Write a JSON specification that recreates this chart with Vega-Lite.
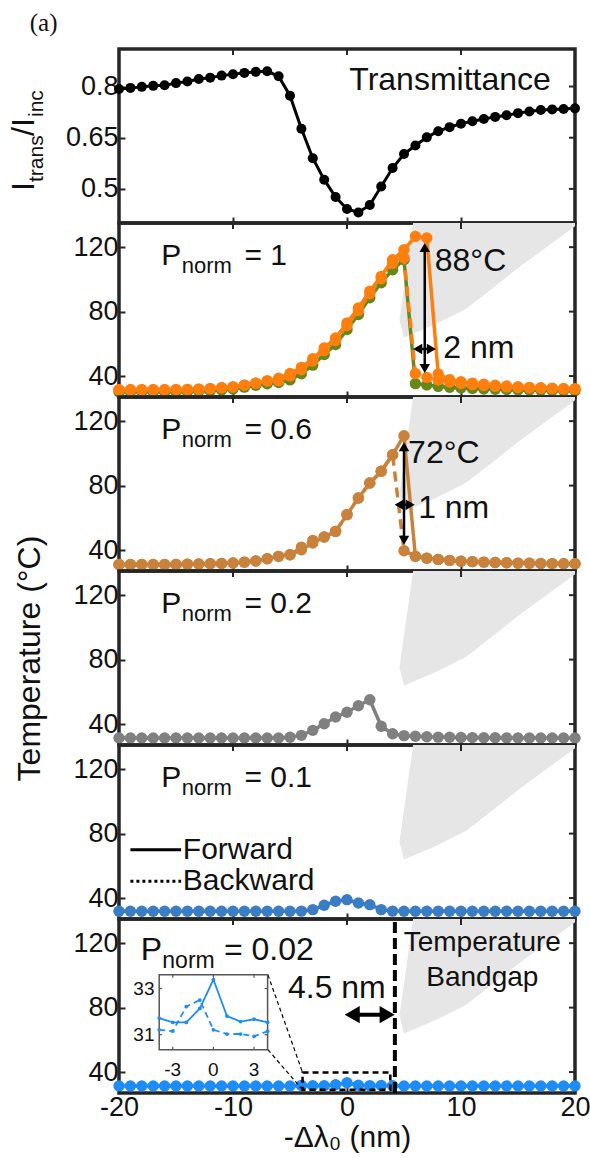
{
"$schema": "https://vega.github.io/schema/vega-lite/v6.json",
"padding": {"left": 5, "top": 9, "right": 0, "bottom": 0},
"background": "white",
"spacing": 0,
"bounds": "flush",
"datasets": {
"trans": [{"x":-20,"v":0.793},{"x":-19,"v":0.796},{"x":-18,"v":0.799},{"x":-17,"v":0.802},{"x":-16,"v":0.804},{"x":-15,"v":0.81},{"x":-14,"v":0.815},{"x":-13,"v":0.822},{"x":-12,"v":0.826},{"x":-11,"v":0.832},{"x":-10,"v":0.836},{"x":-9,"v":0.84},{"x":-8,"v":0.843},{"x":-7,"v":0.845},{"x":-6,"v":0.83},{"x":-5,"v":0.773},{"x":-4,"v":0.676},{"x":-3,"v":0.59},{"x":-2,"v":0.527},{"x":-1,"v":0.476},{"x":0,"v":0.441},{"x":1,"v":0.431},{"x":2,"v":0.453},{"x":3,"v":0.507},{"x":4,"v":0.561},{"x":5,"v":0.602},{"x":6,"v":0.627},{"x":7,"v":0.651},{"x":8,"v":0.669},{"x":9,"v":0.681},{"x":10,"v":0.691},{"x":11,"v":0.698},{"x":12,"v":0.705},{"x":13,"v":0.711},{"x":14,"v":0.716},{"x":15,"v":0.722},{"x":16,"v":0.727},{"x":17,"v":0.731},{"x":18,"v":0.733},{"x":19,"v":0.734},{"x":20,"v":0.736}],
"vticks": [{"x":20,"v":0.5,"x2":19.47,"v2":0.5},{"x":20,"v":0.65,"x2":19.47,"v2":0.65},{"x":20,"v":0.8,"x2":19.47,"v2":0.8},{"x":-10,"v":0.91,"x2":-10,"v2":0.8924},{"x":0,"v":0.91,"x2":0,"v2":0.8924},{"x":10,"v":0.91,"x2":10,"v2":0.8924}],
"tticks": [{"x":20,"T":40,"x2":19.47,"T2":40},{"x":20,"T":80,"x2":19.47,"T2":80},{"x":20,"T":120,"x2":19.47,"T2":120},{"x":-10,"T":135,"x2":-10,"T2":131.3},{"x":0,"T":135,"x2":0,"T2":131.3},{"x":10,"T":135,"x2":10,"T2":131.3}],
"gray": [{"T":64,"xl":5.0,"xr":5.0},{"T":72,"xl":4.71,"xr":7.7},{"T":75,"xl":4.6,"xr":8.54},{"T":82,"xl":4.74,"xr":10.5},{"T":107,"xl":5.24,"xr":15.0},{"T":133,"xl":5.76,"xr":20.0},{"T":135,"xl":5.8,"xr":20.0}],
"p2f": [{"x":-20,"T":31.5},{"x":-19,"T":31.5},{"x":-18,"T":31.5},{"x":-17,"T":31.5},{"x":-16,"T":31.5},{"x":-15,"T":31.6},{"x":-14,"T":31.7},{"x":-13,"T":31.9},{"x":-12,"T":32.2},{"x":-11,"T":32.7},{"x":-10,"T":33.3},{"x":-9,"T":34.4},{"x":-8,"T":35.6},{"x":-7,"T":37.0},{"x":-6,"T":38.6},{"x":-5,"T":41.6},{"x":-4,"T":45.4},{"x":-3,"T":50.8},{"x":-2,"T":57.4},{"x":-1,"T":63.6},{"x":0,"T":72.9},{"x":1,"T":82.2},{"x":2,"T":92.6},{"x":3,"T":101.9},{"x":4,"T":112.2},{"x":5,"T":118.4},{"x":6,"T":126.7},{"x":7,"T":125.7},{"x":8,"T":41.3},{"x":9,"T":37.8},{"x":10,"T":36.5},{"x":11,"T":35.6},{"x":12,"T":34.9},{"x":13,"T":34.3},{"x":14,"T":33.8},{"x":15,"T":33.4},{"x":16,"T":33.0},{"x":17,"T":32.7},{"x":18,"T":32.5},{"x":19,"T":32.3},{"x":20,"T":32.2}],
"p2b": [{"x":-20,"T":31.5},{"x":-19,"T":31.5},{"x":-18,"T":31.5},{"x":-17,"T":31.5},{"x":-16,"T":31.5},{"x":-15,"T":31.6},{"x":-14,"T":31.7},{"x":-13,"T":31.9},{"x":-12,"T":32.2},{"x":-11,"T":32.7},{"x":-10,"T":33.3},{"x":-9,"T":34.4},{"x":-8,"T":35.6},{"x":-7,"T":37.0},{"x":-6,"T":37.1},{"x":-5,"T":40.1},{"x":-4,"T":43.9},{"x":-3,"T":49.3},{"x":-2,"T":55.9},{"x":-1,"T":62.1},{"x":0,"T":71.4},{"x":1,"T":80.7},{"x":2,"T":91.1},{"x":3,"T":100.4},{"x":4,"T":110.0},{"x":5,"T":113.5},{"x":6,"T":41.5},{"x":7,"T":39.2},{"x":8,"T":37.5},{"x":9,"T":36.3},{"x":10,"T":35.4},{"x":11,"T":34.7},{"x":12,"T":34.1},{"x":13,"T":33.6},{"x":14,"T":33.2},{"x":15,"T":32.9},{"x":16,"T":32.6},{"x":17,"T":32.4},{"x":18,"T":32.2},{"x":19,"T":32.0},{"x":20,"T":31.9}],
"p2g": [{"x":-20,"T":30.2},{"x":-19,"T":30.2},{"x":-18,"T":30.2},{"x":-17,"T":30.2},{"x":-16,"T":30.2},{"x":-15,"T":30.3},{"x":-14,"T":30.4},{"x":-13,"T":30.6},{"x":-12,"T":30.9},{"x":-11,"T":31.4},{"x":-10,"T":32.0},{"x":-9,"T":33.1},{"x":-8,"T":34.3},{"x":-7,"T":35.2},{"x":-6,"T":36.0},{"x":-5,"T":37.6},{"x":-4,"T":41.4},{"x":-3,"T":46.8},{"x":-2,"T":53.4},{"x":-1,"T":59.6},{"x":0,"T":68.9},{"x":1,"T":78.2},{"x":2,"T":88.6},{"x":3,"T":97.9},{"x":4,"T":106.0},{"x":5,"T":112.2},{"x":6,"T":35.3},{"x":7,"T":34.4},{"x":8,"T":33.6},{"x":9,"T":33.0},{"x":10,"T":32.6},{"x":11,"T":32.3},{"x":12,"T":32.0},{"x":13,"T":31.8},{"x":14,"T":31.6},{"x":15,"T":31.4},{"x":16,"T":31.3},{"x":17,"T":31.2},{"x":18,"T":31.1},{"x":19,"T":31.0},{"x":20,"T":30.9}],
"p3f": [{"x":-20,"T":31.0},{"x":-19,"T":31.0},{"x":-18,"T":31.0},{"x":-17,"T":31.0},{"x":-16,"T":31.0},{"x":-15,"T":31.1},{"x":-14,"T":31.2},{"x":-13,"T":31.3},{"x":-12,"T":31.5},{"x":-11,"T":31.7},{"x":-10,"T":32.0},{"x":-9,"T":32.5},{"x":-8,"T":33.2},{"x":-7,"T":34.6},{"x":-6,"T":36.1},{"x":-5,"T":37.1},{"x":-4,"T":40.2},{"x":-3,"T":44.4},{"x":-2,"T":48.1},{"x":-1,"T":51.6},{"x":0,"T":62.0},{"x":1,"T":72.3},{"x":2,"T":81.6},{"x":3,"T":88.9},{"x":4,"T":99.2},{"x":5,"T":111.0},{"x":6,"T":36.1},{"x":7,"T":35.0},{"x":8,"T":34.2},{"x":9,"T":33.6},{"x":10,"T":33.1},{"x":11,"T":32.8},{"x":12,"T":32.5},{"x":13,"T":32.3},{"x":14,"T":32.1},{"x":15,"T":31.9},{"x":16,"T":31.8},{"x":17,"T":31.7},{"x":18,"T":31.6},{"x":19,"T":31.5},{"x":20,"T":31.5}],
"p3b": [{"x":-20,"T":31.0},{"x":-19,"T":31.0},{"x":-18,"T":31.0},{"x":-17,"T":31.0},{"x":-16,"T":31.0},{"x":-15,"T":31.1},{"x":-14,"T":31.2},{"x":-13,"T":31.3},{"x":-12,"T":31.5},{"x":-11,"T":31.7},{"x":-10,"T":32.0},{"x":-9,"T":32.5},{"x":-8,"T":33.2},{"x":-7,"T":34.6},{"x":-6,"T":36.1},{"x":-5,"T":37.1},{"x":-4,"T":41.8},{"x":-3,"T":46.0},{"x":-2,"T":48.1},{"x":-1,"T":51.6},{"x":0,"T":62.0},{"x":1,"T":72.3},{"x":2,"T":81.6},{"x":3,"T":88.9},{"x":4,"T":99.2},{"x":5,"T":39.6},{"x":6,"T":36.1},{"x":7,"T":35.0},{"x":8,"T":34.2},{"x":9,"T":33.6},{"x":10,"T":33.1},{"x":11,"T":32.8},{"x":12,"T":32.5},{"x":13,"T":32.3},{"x":14,"T":32.1},{"x":15,"T":31.9},{"x":16,"T":31.8},{"x":17,"T":31.7},{"x":18,"T":31.6},{"x":19,"T":31.5},{"x":20,"T":31.5}],
"p4": [{"x":-20,"T":31.3},{"x":-19,"T":31.3},{"x":-18,"T":31.3},{"x":-17,"T":31.3},{"x":-16,"T":31.3},{"x":-15,"T":31.3},{"x":-14,"T":31.3},{"x":-13,"T":31.3},{"x":-12,"T":31.3},{"x":-11,"T":31.3},{"x":-10,"T":31.3},{"x":-9,"T":31.3},{"x":-8,"T":31.3},{"x":-7,"T":31.3},{"x":-6,"T":31.4},{"x":-5,"T":31.8},{"x":-4,"T":33.0},{"x":-3,"T":36.1},{"x":-2,"T":40.2},{"x":-1,"T":44.4},{"x":0,"T":47.3},{"x":1,"T":51.4},{"x":2,"T":55.1},{"x":3,"T":38.6},{"x":4,"T":34.0},{"x":5,"T":32.8},{"x":6,"T":32.4},{"x":7,"T":32.1},{"x":8,"T":31.9},{"x":9,"T":31.8},{"x":10,"T":31.7},{"x":11,"T":31.6},{"x":12,"T":31.5},{"x":13,"T":31.5},{"x":14,"T":31.4},{"x":15,"T":31.4},{"x":16,"T":31.4},{"x":17,"T":31.3},{"x":18,"T":31.3},{"x":19,"T":31.3},{"x":20,"T":31.3}],
"p5": [{"x":-20,"T":31.8},{"x":-19,"T":31.8},{"x":-18,"T":31.8},{"x":-17,"T":31.8},{"x":-16,"T":31.8},{"x":-15,"T":31.8},{"x":-14,"T":31.8},{"x":-13,"T":31.8},{"x":-12,"T":31.8},{"x":-11,"T":31.8},{"x":-10,"T":31.8},{"x":-9,"T":31.8},{"x":-8,"T":31.8},{"x":-7,"T":31.8},{"x":-6,"T":31.8},{"x":-5,"T":31.8},{"x":-4,"T":31.9},{"x":-3,"T":32.8},{"x":-2,"T":35.5},{"x":-1,"T":38.0},{"x":0,"T":39.0},{"x":1,"T":36.9},{"x":2,"T":35.9},{"x":3,"T":32.8},{"x":4,"T":31.9},{"x":5,"T":31.8},{"x":6,"T":31.8},{"x":7,"T":31.8},{"x":8,"T":31.8},{"x":9,"T":31.8},{"x":10,"T":31.8},{"x":11,"T":31.8},{"x":12,"T":31.8},{"x":13,"T":31.8},{"x":14,"T":31.8},{"x":15,"T":31.8},{"x":16,"T":31.8},{"x":17,"T":31.8},{"x":18,"T":31.8},{"x":19,"T":31.8},{"x":20,"T":31.8}],
"p6": [{"x":-20,"T":31.4},{"x":-19,"T":31.4},{"x":-18,"T":31.4},{"x":-17,"T":31.4},{"x":-16,"T":31.4},{"x":-15,"T":31.4},{"x":-14,"T":31.4},{"x":-13,"T":31.4},{"x":-12,"T":31.4},{"x":-11,"T":31.4},{"x":-10,"T":31.4},{"x":-9,"T":31.4},{"x":-8,"T":31.4},{"x":-7,"T":31.4},{"x":-6,"T":31.4},{"x":-5,"T":31.4},{"x":-4,"T":31.72},{"x":-3,"T":31.53},{"x":-2,"T":31.53},{"x":-1,"T":32.14},{"x":0,"T":33.39},{"x":1,"T":31.81},{"x":2,"T":31.57},{"x":3,"T":31.67},{"x":4,"T":31.53},{"x":5,"T":31.4},{"x":6,"T":31.4},{"x":7,"T":31.4},{"x":8,"T":31.4},{"x":9,"T":31.4},{"x":10,"T":31.4},{"x":11,"T":31.4},{"x":12,"T":31.4},{"x":13,"T":31.4},{"x":14,"T":31.4},{"x":15,"T":31.4},{"x":16,"T":31.4},{"x":17,"T":31.4},{"x":18,"T":31.4},{"x":19,"T":31.4},{"x":20,"T":31.4}],
"insf": [{"x":-4,"T":31.72},{"x":-3,"T":31.53},{"x":-2,"T":31.53},{"x":-1,"T":32.14},{"x":0,"T":33.39},{"x":1,"T":31.81},{"x":2,"T":31.57},{"x":3,"T":31.67},{"x":4,"T":31.53}],
"insb": [{"x":-4,"T":31.21},{"x":-3,"T":31.15},{"x":-2,"T":32.22},{"x":-1,"T":32.5},{"x":0,"T":31.21},{"x":1,"T":31.03},{"x":2,"T":31.03},{"x":3,"T":30.93},{"x":4,"T":31.15}],
"insticks": [{"x":-4,"T":31,"x2":-3.78,"T2":31},{"x":-4,"T":33,"x2":-3.78,"T2":33},{"x":4,"T":31,"x2":3.78,"T2":31},{"x":4,"T":33,"x2":3.78,"T2":33},{"x":-3,"T":30.35,"x2":-3,"T2":30.48},{"x":0,"T":30.35,"x2":0,"T2":30.48},{"x":3,"T":30.35,"x2":3,"T2":30.48},{"x":-3,"T":33.6,"x2":-3,"T2":33.47},{"x":0,"T":33.6,"x2":0,"T2":33.47},{"x":3,"T":33.6,"x2":3,"T2":33.47}]
},
"vconcat": [
{
"width": 456, "height": 174,
"encoding": {
 "x": {"field":"x","type":"quantitative","scale":{"domain":[-20,20]},"axis":{"values":[-10,0,10],"labels":false,"title":null}},
 "y": {"field":"v","type":"quantitative","scale":{"domain":[0.4,0.91]},"axis":{"values":[0.5,0.65,0.8],"title":null,"labelExpr":"''+datum.value"}}
},
"layer": [
 {"data":{"name":"vticks"},"mark":{"type":"rule","color":"#262626","strokeWidth":2},"encoding":{"x2":{"field":"x2"},"y2":{"field":"v2"}}},
 {"data":{"name":"trans"},"mark":{"type":"line","color":"#000000","strokeWidth":3}},
 {"data":{"name":"trans"},"mark":{"type":"circle","color":"#000000","size":100,"opacity":1}},
 {"data":{"values":[{"x":0.2,"v":0.79,"t":"Transmittance"}]},"mark":{"type":"text","align":"left","baseline":"alphabetic","fontSize":32},"encoding":{"text":{"field":"t"}}},
 {"data":{"values":[{"x":-27.83,"v":0.963,"t":"(a)"}]},"mark":{"type":"text","align":"left","baseline":"alphabetic","fontSize":25,"font":"Liberation Serif"},"encoding":{"text":{"field":"t"}}},
 {"data":{"values":[{"x":-27.48,"v":0.4936,"t":"I"},{"x":-27.48,"v":0.655,"t":"/I"}]},"mark":{"type":"text","align":"left","baseline":"alphabetic","fontSize":32,"angle":270},"encoding":{"text":{"field":"t"}}},
 {"data":{"values":[{"x":-26.69,"v":0.52,"t":"trans"},{"x":-26.69,"v":0.7106,"t":"inc"}]},"mark":{"type":"text","align":"left","baseline":"alphabetic","fontSize":21,"angle":270},"encoding":{"text":{"field":"t"}}}
]
},
{
"width": 456, "height": 174,
"encoding": {
 "x": {"field":"x","type":"quantitative","scale":{"domain":[-20,20]},"axis":{"values":[-10,0,10],"labels":false,"title":null}},
 "y": {"field":"T","type":"quantitative","scale":{"domain":[27,135]},"axis":{"values":[40,80,120],"title":null}}
},
"layer": [
 {"data":{"name":"gray"},"mark":{"type":"area","orient":"horizontal","color":"#e6e6e6","opacity":1},"encoding":{"x":{"field":"xl","type":"quantitative","scale":{"domain":[-20,20]}},"x2":{"field":"xr"}}},
 {"data":{"name":"tticks"},"mark":{"type":"rule","color":"#262626","strokeWidth":2},"encoding":{"x2":{"field":"x2"},"y2":{"field":"T2"}}},
 {"data":{"name":"p2g"},"mark":{"type":"line","color":"#66881a","strokeWidth":3.5}},
 {"data":{"name":"p2g"},"mark":{"type":"circle","color":"#66881a","size":130,"opacity":1}},
 {"data":{"name":"p2b"},"mark":{"type":"line","color":"#ff7f0e","strokeWidth":3.5,"strokeDash":[10,6]}},
 {"data":{"name":"p2b"},"mark":{"type":"circle","color":"#ff7f0e","size":130,"opacity":1}},
 {"data":{"name":"p2f"},"mark":{"type":"line","color":"#ff7f0e","strokeWidth":3.5}},
 {"data":{"name":"p2f"},"mark":{"type":"circle","color":"#ff7f0e","size":130,"opacity":1}},
 {"data":{"values":[{"x":6.82,"T":119.8,"x2":6.82,"T2":44.7},{"x":6.2,"T":56.8,"x2":7.4,"T2":56.8}]},"mark":{"type":"rule","color":"#000000","strokeWidth":2.5},"encoding":{"x2":{"field":"x2"},"y2":{"field":"T2"}}},
 {"data":{"values":[{"x":6.82,"T":119.8,"d":"up"},{"x":6.82,"T":44.7,"d":"down"},{"x":6.2,"T":56.8,"d":"left"},{"x":7.4,"T":56.8,"d":"right"}]},"mark":{"type":"point","filled":true,"color":"#000000","size":110,"opacity":1},"encoding":{"shape":{"field":"d","type":"nominal","scale":{"domain":["up","down","left","right"],"range":["triangle-up","triangle-down","triangle-left","triangle-right"]},"legend":null}}},
 {"data":{"values":[{"x":7.7,"T":105.0,"t":"88°C"},{"x":8.44,"T":51.2,"t":"2 nm"}]},"mark":{"type":"text","align":"left","baseline":"alphabetic","fontSize":32},"encoding":{"text":{"field":"t"}}},
 {"data":{"values":[{"x":-16.3,"T":109,"t":"P"},{"x":-9.0,"T":109,"t":"= 1"}]},"mark":{"type":"text","align":"left","baseline":"alphabetic","fontSize":30},"encoding":{"text":{"field":"t"}}},
 {"data":{"values":[{"x":-14.5,"T":104,"t":"norm"}]},"mark":{"type":"text","align":"left","baseline":"alphabetic","fontSize":22},"encoding":{"text":{"field":"t"}}}
]
},
{
"width": 456, "height": 174,
"encoding": {
 "x": {"field":"x","type":"quantitative","scale":{"domain":[-20,20]},"axis":{"values":[-10,0,10],"labels":false,"title":null}},
 "y": {"field":"T","type":"quantitative","scale":{"domain":[27,135]},"axis":{"values":[40,80,120],"title":null}}
},
"layer": [
 {"data":{"name":"gray"},"mark":{"type":"area","orient":"horizontal","color":"#e6e6e6","opacity":1},"encoding":{"x":{"field":"xl","type":"quantitative","scale":{"domain":[-20,20]}},"x2":{"field":"xr"}}},
 {"data":{"name":"tticks"},"mark":{"type":"rule","color":"#262626","strokeWidth":2},"encoding":{"x2":{"field":"x2"},"y2":{"field":"T2"}}},
 {"data":{"name":"p3b"},"mark":{"type":"line","color":"#c8823c","strokeWidth":3.5,"strokeDash":[10,6]}},
 {"data":{"name":"p3b"},"mark":{"type":"circle","color":"#c8823c","size":130,"opacity":1}},
 {"data":{"name":"p3f"},"mark":{"type":"line","color":"#c8823c","strokeWidth":3.5}},
 {"data":{"name":"p3f"},"mark":{"type":"circle","color":"#c8823c","size":130,"opacity":1}},
 {"data":{"values":[{"x":5.0,"T":104.1,"x2":5.0,"T2":46.1},{"x":4.58,"T":68.1,"x2":5.54,"T2":68.1}]},"mark":{"type":"rule","color":"#000000","strokeWidth":2.5},"encoding":{"x2":{"field":"x2"},"y2":{"field":"T2"}}},
 {"data":{"values":[{"x":5.0,"T":104.1,"d":"up"},{"x":5.0,"T":46.1,"d":"down"},{"x":4.58,"T":68.1,"d":"left"},{"x":5.54,"T":68.1,"d":"right"}]},"mark":{"type":"point","filled":true,"color":"#000000","size":110,"opacity":1},"encoding":{"shape":{"field":"d","type":"nominal","scale":{"domain":["up","down","left","right"],"range":["triangle-up","triangle-down","triangle-left","triangle-right"]},"legend":null}}},
 {"data":{"values":[{"x":5.36,"T":94.0,"t":"72°C"},{"x":6.24,"T":59.9,"t":"1 nm"}]},"mark":{"type":"text","align":"left","baseline":"alphabetic","fontSize":32},"encoding":{"text":{"field":"t"}}},
 {"data":{"values":[{"x":-16.3,"T":109,"t":"P"},{"x":-9.0,"T":109,"t":"= 0.6"}]},"mark":{"type":"text","align":"left","baseline":"alphabetic","fontSize":30},"encoding":{"text":{"field":"t"}}},
 {"data":{"values":[{"x":-14.5,"T":104,"t":"norm"}]},"mark":{"type":"text","align":"left","baseline":"alphabetic","fontSize":22},"encoding":{"text":{"field":"t"}}}
]
},
{
"width": 456, "height": 174,
"encoding": {
 "x": {"field":"x","type":"quantitative","scale":{"domain":[-20,20]},"axis":{"values":[-10,0,10],"labels":false,"title":null}},
 "y": {"field":"T","type":"quantitative","scale":{"domain":[27,135]},"axis":{"values":[40,80,120],"title":"Temperature (°C)","titlePadding":26}}
},
"layer": [
 {"data":{"name":"gray"},"mark":{"type":"area","orient":"horizontal","color":"#e6e6e6","opacity":1},"encoding":{"x":{"field":"xl","type":"quantitative","scale":{"domain":[-20,20]}},"x2":{"field":"xr"}}},
 {"data":{"name":"tticks"},"mark":{"type":"rule","color":"#262626","strokeWidth":2},"encoding":{"x2":{"field":"x2"},"y2":{"field":"T2"}}},
 {"data":{"name":"p4"},"mark":{"type":"line","color":"#808080","strokeWidth":3.5}},
 {"data":{"name":"p4"},"mark":{"type":"circle","color":"#808080","size":130,"opacity":1}},
 {"data":{"values":[{"x":-16.3,"T":109,"t":"P"},{"x":-9.0,"T":109,"t":"= 0.2"}]},"mark":{"type":"text","align":"left","baseline":"alphabetic","fontSize":30},"encoding":{"text":{"field":"t"}}},
 {"data":{"values":[{"x":-14.5,"T":104,"t":"norm"}]},"mark":{"type":"text","align":"left","baseline":"alphabetic","fontSize":22},"encoding":{"text":{"field":"t"}}}
]
},
{
"width": 456, "height": 174,
"encoding": {
 "x": {"field":"x","type":"quantitative","scale":{"domain":[-20,20]},"axis":{"values":[-10,0,10],"labels":false,"title":null}},
 "y": {"field":"T","type":"quantitative","scale":{"domain":[27,135]},"axis":{"values":[40,80,120],"title":null}}
},
"layer": [
 {"data":{"name":"gray"},"mark":{"type":"area","orient":"horizontal","color":"#e6e6e6","opacity":1},"encoding":{"x":{"field":"xl","type":"quantitative","scale":{"domain":[-20,20]}},"x2":{"field":"xr"}}},
 {"data":{"name":"tticks"},"mark":{"type":"rule","color":"#262626","strokeWidth":2},"encoding":{"x2":{"field":"x2"},"y2":{"field":"T2"}}},
 {"data":{"name":"p5"},"mark":{"type":"line","color":"#3b7dc4","strokeWidth":3.5}},
 {"data":{"name":"p5"},"mark":{"type":"circle","color":"#3b7dc4","size":130,"opacity":1}},
 {"data":{"values":[{"x":-19,"T":70,"x2":-14.55,"T2":70}]},"mark":{"type":"rule","color":"#000000","strokeWidth":3},"encoding":{"x2":{"field":"x2"},"y2":{"field":"T2"}}},
 {"data":{"values":[{"x":-19,"T":50.4,"x2":-14.55,"T2":50.4}]},"mark":{"type":"rule","color":"#000000","strokeWidth":3,"strokeDash":[3,3]},"encoding":{"x2":{"field":"x2"},"y2":{"field":"T2"}}},
 {"data":{"values":[{"x":-14.4,"T":64.3,"t":"Forward"},{"x":-14.4,"T":45.2,"t":"Backward"}]},"mark":{"type":"text","align":"left","baseline":"alphabetic","fontSize":30},"encoding":{"text":{"field":"t"}}},
 {"data":{"values":[{"x":-16.3,"T":109,"t":"P"},{"x":-9.0,"T":109,"t":"= 0.1"}]},"mark":{"type":"text","align":"left","baseline":"alphabetic","fontSize":30},"encoding":{"text":{"field":"t"}}},
 {"data":{"values":[{"x":-14.5,"T":104,"t":"norm"}]},"mark":{"type":"text","align":"left","baseline":"alphabetic","fontSize":22},"encoding":{"text":{"field":"t"}}}
]
},
{
"width": 456, "height": 174,
"layer": [
 {
  "encoding": {
   "x": {"field":"x","type":"quantitative","scale":{"domain":[-20,20]},"axis":{"values":[-20,-10,0,10,20],"labelFlush":false,"labelExpr":"''+datum.value","title":"-Δλ₀ (nm)","titleFontSize":30,"titlePadding":2}},
   "y": {"field":"T","type":"quantitative","scale":{"domain":[27,135]},"axis":{"values":[40,80,120],"title":null}}
  },
  "layer": [
   {"data":{"name":"gray"},"mark":{"type":"area","orient":"horizontal","color":"#e6e6e6","opacity":1},"encoding":{"x":{"field":"xl","type":"quantitative","scale":{"domain":[-20,20]}},"x2":{"field":"xr"}}},
   {"data":{"name":"tticks"},"mark":{"type":"rule","color":"#262626","strokeWidth":2},"encoding":{"x2":{"field":"x2"},"y2":{"field":"T2"}}},
   {"data":{"name":"p6"},"mark":{"type":"line","color":"#1e8cf5","strokeWidth":3.5}},
   {"data":{"name":"p6"},"mark":{"type":"circle","color":"#1e8cf5","size":130,"opacity":1}},
   {"data":{"values":[{"x":4.2,"T":27,"x2":4.2,"T2":135}]},"mark":{"type":"rule","color":"#000000","strokeWidth":4,"strokeDash":[11,5]},"encoding":{"x2":{"field":"x2"},"y2":{"field":"T2"}}},
   {"data":{"values":[{"x":-3.9,"T":29,"x2":3.8,"T2":39.8}]},"mark":{"type":"rect","filled":false,"color":"#000000","strokeWidth":2.5,"strokeDash":[6,4]},"encoding":{"x2":{"field":"x2"},"y2":{"field":"T2"}}},
   {"data":{"values":[{"x":-6.94,"T":100.4,"x2":-3.9,"T2":39.8},{"x":-6.94,"T":53.9,"x2":-3.9,"T2":29}]},"mark":{"type":"rule","color":"#000000","strokeWidth":1.2,"strokeDash":[4,3]},"encoding":{"x2":{"field":"x2"},"y2":{"field":"T2"}}},
   {"data":{"values":[{"x":0.46,"T":75.6,"x2":3.52,"T2":75.6}]},"mark":{"type":"rule","color":"#000000","strokeWidth":4},"encoding":{"x2":{"field":"x2"},"y2":{"field":"T2"}}},
   {"data":{"values":[{"x":0.46,"T":75.6,"d":"left"},{"x":3.52,"T":75.6,"d":"right"}]},"mark":{"type":"point","filled":true,"color":"#000000","size":300,"opacity":1},"encoding":{"shape":{"field":"d","type":"nominal","scale":{"domain":["left","right"],"range":["triangle-left","triangle-right"]},"legend":null}}},
   {"data":{"values":[{"x":-5.18,"T":86,"t":"4.5 nm"}]},"mark":{"type":"text","align":"left","baseline":"alphabetic","fontSize":32},"encoding":{"text":{"field":"t"}}},
   {"data":{"values":[{"x":11.87,"T":114.9,"t":"Temperature"},{"x":11.87,"T":93.2,"t":"Bandgap"}]},"mark":{"type":"text","align":"center","baseline":"alphabetic","fontSize":28},"encoding":{"text":{"field":"t"}}},
   {"data":{"values":[{"x":-18.1,"T":109.7,"t":"P"},{"x":-10.8,"T":109.7,"t":"= 0.02"}]},"mark":{"type":"text","align":"left","baseline":"alphabetic","fontSize":32},"encoding":{"text":{"field":"t"}}},
   {"data":{"values":[{"x":-16.2,"T":104.6,"t":"norm"}]},"mark":{"type":"text","align":"left","baseline":"alphabetic","fontSize":23},"encoding":{"text":{"field":"t"}}}
  ]
 },
 {
  "encoding": {
   "x": {"field":"x","type":"quantitative","scale":{"domain":[-4,4],"range":[40.2,148.6]},"axis":null},
   "y": {"field":"T","type":"quantitative","scale":{"domain":[30.35,33.6],"range":[130.7,55.7]},"axis":null}
  },
  "layer": [
   {"data":{"values":[{"x":-4,"T":30.35,"x2":4,"T2":33.6}]},"mark":{"type":"rect","fill":"#ffffff","stroke":"#555555","strokeWidth":1.5},"encoding":{"x2":{"field":"x2"},"y2":{"field":"T2"}}},
   {"data":{"name":"insticks"},"mark":{"type":"rule","color":"#555555","strokeWidth":1.2},"encoding":{"x2":{"field":"x2"},"y2":{"field":"T2"}}},
   {"data":{"name":"insb"},"mark":{"type":"line","color":"#1e8cf5","strokeWidth":1.8,"strokeDash":[6,4]}},
   {"data":{"name":"insb"},"mark":{"type":"circle","color":"#1e8cf5","size":14,"opacity":1}},
   {"data":{"name":"insf"},"mark":{"type":"line","color":"#1e8cf5","strokeWidth":1.8}},
   {"data":{"name":"insf"},"mark":{"type":"circle","color":"#1e8cf5","size":14,"opacity":1}},
   {"data":{"values":[{"x":-4.35,"T":33,"t":"33"},{"x":-4.35,"T":31,"t":"31"}]},"mark":{"type":"text","align":"right","baseline":"middle","fontSize":19},"encoding":{"text":{"field":"t"}}},
   {"data":{"values":[{"x":-3,"T":29.85,"t":"-3"},{"x":0,"T":29.85,"t":"0"},{"x":3,"T":29.85,"t":"3"}]},"mark":{"type":"text","align":"center","baseline":"top","fontSize":19},"encoding":{"text":{"field":"t"}}}
  ]
 }
],
"resolve": {"scale": {"x": "independent", "y": "independent"}}
}
],
"config": {
 "font": "Liberation Sans",
 "view": {"stroke": "#262626", "strokeWidth": 3.5},
 "axis": {"grid": false, "domain": false, "tickSize": -6, "tickWidth": 2, "tickColor": "#262626", "labelFontSize": 27, "labelColor": "#111111", "labelPadding": 7, "labelFlush": false, "titleFontSize": 32, "titleFontWeight": "normal", "titleColor": "#111111", "labelFont": "Liberation Sans", "titleFont": "Liberation Sans"},
 "text": {"font": "Liberation Sans", "color": "#111111"}
}
}
